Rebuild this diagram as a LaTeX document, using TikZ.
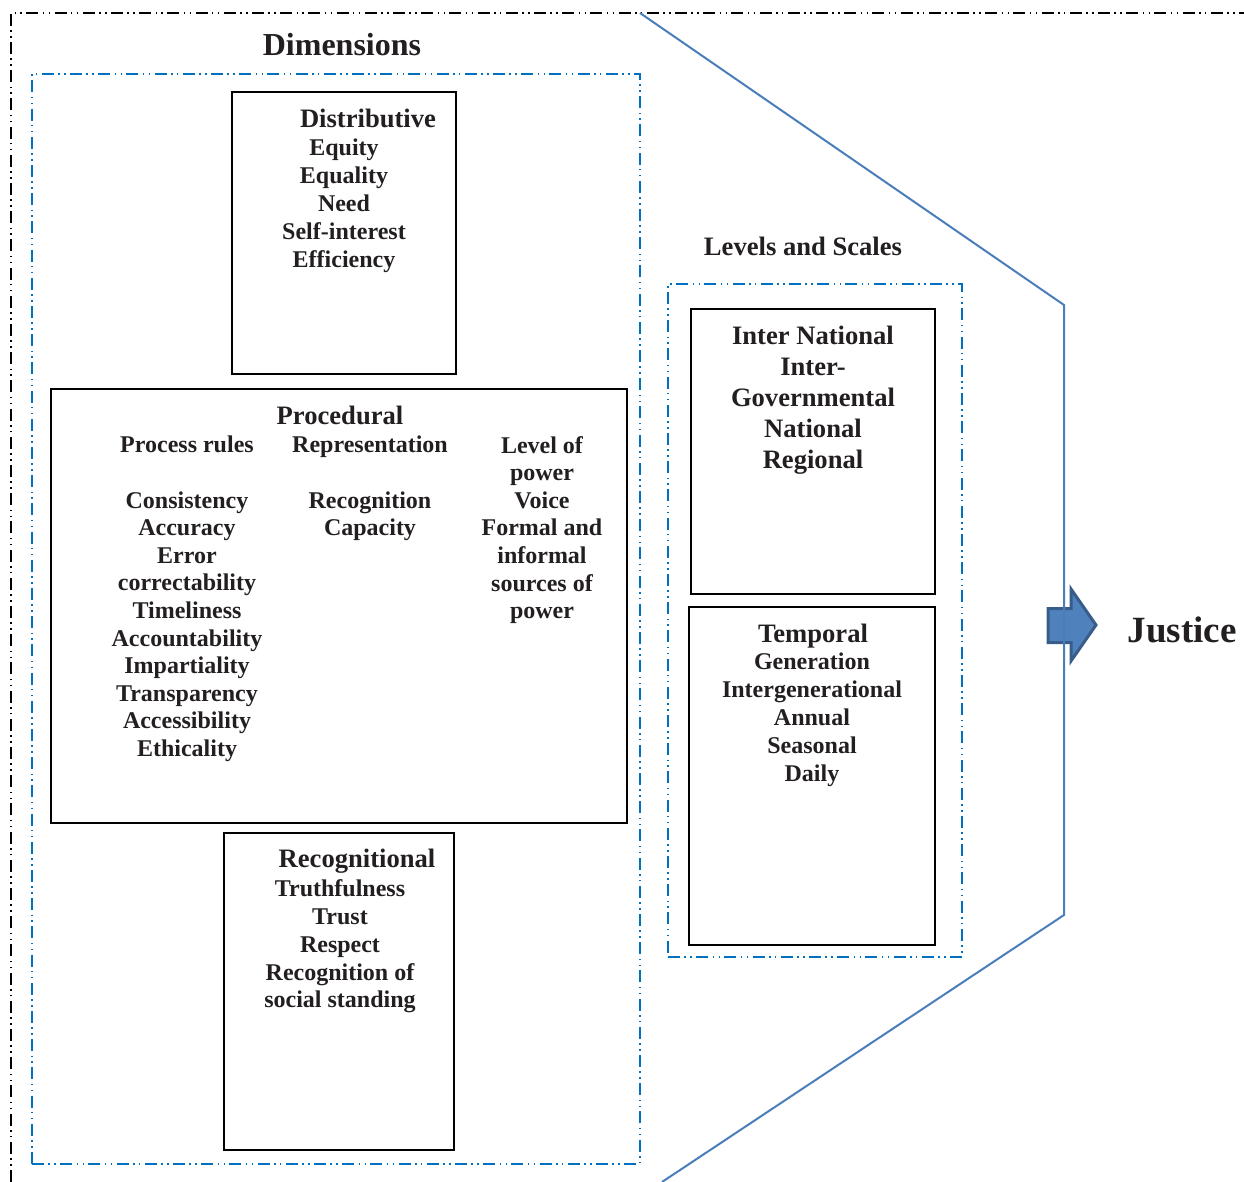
\documentclass[tikz,border=0pt]{standalone}
\usepackage{fontspec}
\setmainfont{Liberation Serif}
\usetikzlibrary{positioning}

\definecolor{inkgray}{HTML}{231F20}
\definecolor{framblue}{HTML}{0070C0}
\definecolor{lineblue}{HTML}{4A7EBB}
\definecolor{arrowfill}{HTML}{4F81BD}
\definecolor{arrowdraw}{HTML}{385D8A}

\tikzset{
  dashdotdot/.style={dash pattern=on 6pt off 2.2pt on 0.75pt off 2.2pt on 0.75pt off 2.2pt},
  blueframe/.style={draw=framblue, line width=0.9pt, dashdotdot, inner sep=0pt},
  catbox/.style={draw=black, line width=0.8pt, inner sep=0pt},
  body/.style={text=inkgray, inner sep=0pt, align=center,
    font=\fontsize{12}{14}\selectfont\bfseries},
  head/.style={text=inkgray, inner sep=0pt, align=center,
    font=\fontsize{13.3}{15.5}\selectfont\bfseries},
}

\begin{document}
\begin{tikzpicture}[x=0.5pt,y=-0.5pt]
    \useasboundingbox (0,0) rectangle (1244,1182);

    % outer frame
    \coordinate (fbl) at (11,1182);
    \coordinate (ftl) at (11,13);
    \coordinate (ftr) at (1244,13);
    \draw[black, line width=0.8pt, dashdotdot] (fbl) -- (ftl) -- (ftr);

    % frames
    \node[blueframe, minimum width=304pt, minimum height=545pt]   (dimframe) at (336,619) {};
    \node[blueframe, minimum width=147pt, minimum height=336.5pt] (levframe) at (815,620.5) {};

    % dimension boxes
    \node[catbox, minimum width=112pt, minimum height=141pt]   (distr) at (344,233) {};
    \node[catbox, minimum width=288pt, minimum height=217pt]   (proc)  at (339,606) {};
    \node[catbox, minimum width=115pt, minimum height=158.5pt] (recog) at (339,991.5) {};
    \node[catbox, minimum width=122pt, minimum height=142.5pt] (inter) at (813,451.5) {};
    \node[catbox, minimum width=123pt, minimum height=169pt]   (temp)  at (812,776) {};

    % titles
    \node[text=inkgray, font=\fontsize{16}{18}\selectfont\bfseries] (dimtitle) at (342,45) {Dimensions};
    \node[head] (levtitle) at (803,246) {Levels and Scales};

    % distributive
    \node[head] (distrhead) at (368,118) {Distributive};
    \node[body] (distrlist) at (344,206) {Equity\\Equality\\Need\\Self-interest\\Efficiency};

    % procedural
    \node[head] (prochead) at (340,415) {Procedural};
    \node[body, font=\fontsize{12}{13.8}\selectfont\bfseries] (proccola) at (187,599)
      {Process rules\\[13.8pt]Consistency\\Accuracy\\Error\\correctability\\Timeliness\\
       Accountability\\Impartiality\\Transparency\\Accessibility\\Ethicality};
    \node[body, font=\fontsize{12}{13.8}\selectfont\bfseries] (proccolb) at (370,488.5)
      {Representation\\[13.8pt]Recognition\\Capacity};
    \node[body, font=\fontsize{12}{13.8}\selectfont\bfseries] (proccolc) at (542,530)
      {Level of\\power\\Voice\\Formal and\\informal\\sources of\\power};

    % recognitional
    \node[head] (rechead) at (357,861) {Recognitional};
    \node[body, font=\fontsize{12}{13.9}\selectfont\bfseries] (reclist) at (340,946.5)
      {Truthfulness\\Trust\\Respect\\Recognition of\\social standing};

    % levels and scales
    \node[head] (interlist) at (813,400)
      {Inter National\\Inter-\\Governmental\\National\\Regional};
    \node[head] (temphead) at (813,636) {Temporal};
    \node[body] (templist) at (812,720)
      {Generation\\Intergenerational\\Annual\\Seasonal\\Daily};

    % arrow to justice
    \draw[fill=arrowfill, draw=arrowdraw, line width=1.5pt, line join=miter]
      (1048,608.5) -- (1071,608.5) -- (1071,589) -- (1096,625) --
      (1071,661) -- (1071,642.5) -- (1048,642.5) -- cycle;
    \node[text=inkgray, font=\fontsize{18.5}{20}\selectfont\bfseries] (justice) at (1182,630) {Justice};

    % enclosing line
    \coordinate (ptop) at (640,13);
    \coordinate (pupr) at (1064,305);
    \coordinate (plwr) at (1064,915);
    \coordinate (pbot) at (662,1182);
    \draw[lineblue, line width=1pt] (ptop) -- (pupr) -- (plwr) -- (pbot);
\end{tikzpicture}
\end{document}
